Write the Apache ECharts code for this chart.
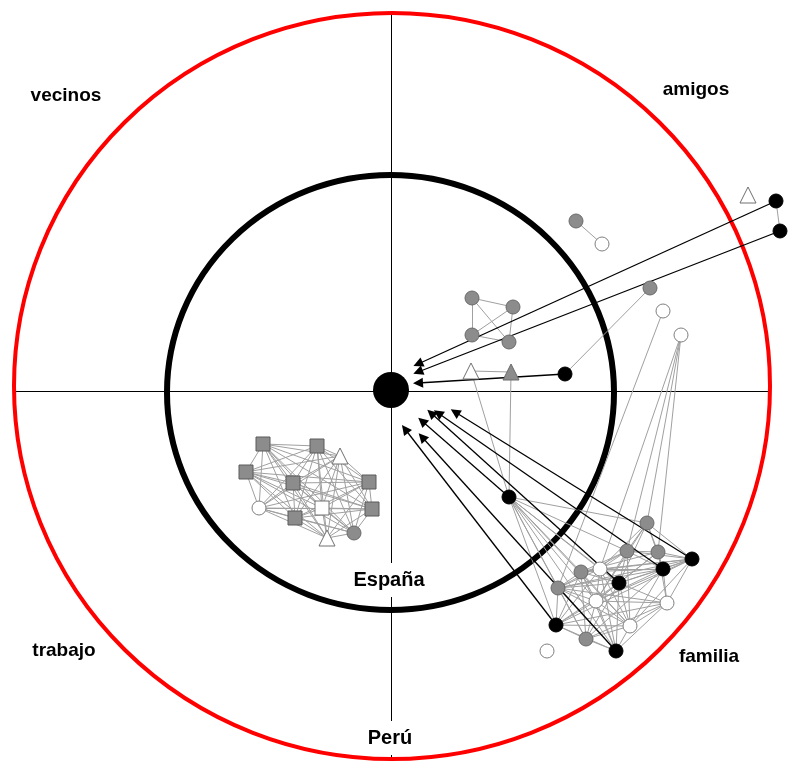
<!DOCTYPE html>
<html><head><meta charset="utf-8">
<script src="https://cdn.jsdelivr.net/npm/echarts@6/dist/echarts.min.js"></script>
<style>html,body{margin:0;padding:0;background:#fff}#c{width:795px;height:761px}</style>
</head><body><div id="c"></div>
<script>
// ---- data (pixel-space coordinates, y downwards) ----
// rings: [cx, cy, rx, ry]
const rings = [[392, 386, 378, 373], [390.5, 392.5, 223.5, 217.5]];
// axis cross lines
const crossLines = [[[391, 13], [391, 761]], [[14, 391], [769, 391]]];
const centerNode = [391, 390];

// nodes: [x, y, kind]  kind: b=black, g=gray, w=white circle; gs/ws squares; wt/gt triangles
const nodes = [
  [748,195,'wt'],[776,201,'b'],[780,231,'b'],[797,256,'g'],          // 0-3
  [576,221,'g'],[602,244,'w'],                                          // 4-5
  [472,298,'g'],[513,307,'g'],[472,335,'g'],[509,342,'g'],              // 6-9
  [650,288,'g'],[663,311,'w'],[681,335,'w'],                            // 10-12
  [471,371,'wt'],[511,372,'gt'],[565,374,'b'],[509,497,'b'],            // 13-16
  [647,523,'g'],[627,551,'g'],[658,552,'g'],[692,559,'b'],[663,569,'b'],// 17-21
  [581,572,'g'],[600,569,'w'],[619,583,'b'],[558,588,'g'],[596,601,'w'],// 22-26
  [667,603,'w'],[630,626,'w'],[556,625,'b'],[586,639,'g'],[616,651,'b'],// 27-31
  [547,651,'w'],                                                        // 32
  [263,444,'gs'],[317,446,'gs'],[340,456,'wt'],[246,472,'gs'],          // 33-36
  [293,483,'gs'],[369,482,'gs'],[259,508,'w'],[322,508,'ws'],           // 37-40
  [372,509,'gs'],[295,518,'gs'],[327,538,'wt'],[354,533,'g']            // 41-44
];

// undirected ties between nodes
const amigosLinks = [[1,2],[4,5],[6,7],[6,8],[6,9],[7,8],[7,9],[8,9],[10,15],[13,14],[13,16],[14,16],
  [11,25],[12,23],[12,18],[12,17],[12,19]];
const familiaLinks = [
  [16,17],[16,18],[16,22],[16,23],[16,24],[16,25],[16,26],[16,28],[16,29],[16,30],[16,31],
  [17,18],[17,19],[17,20],[17,21],[17,23],[17,24],[17,26],
  [18,19],[18,20],[18,21],[18,22],[18,23],[18,24],[18,25],[18,26],[18,28],
  [19,20],[19,21],[19,22],[19,24],[19,26],[19,27],
  [20,21],[20,22],[20,23],[20,24],[20,25],[20,26],[20,27],[20,28],[20,29],
  [21,22],[21,23],[21,24],[21,25],[21,26],[21,27],[21,28],[21,30],
  [22,23],[22,24],[22,25],[22,26],[22,28],[22,29],[22,30],[22,31],
  [23,24],[23,25],[23,26],[23,28],[23,29],[23,31],
  [24,25],[24,26],[24,27],[24,28],[24,29],[24,30],[24,31],
  [25,26],[25,27],[25,28],[25,29],[25,30],[25,31],
  [26,27],[26,28],[26,29],[26,30],[26,31],
  [27,28],[27,29],[27,30],[27,31],
  [28,29],[28,30],[28,31],
  [29,30],[29,31],[30,31]
];
const trabajoLinks = [
  [33,34],[33,35],[33,36],[33,37],[33,38],[33,39],[33,40],[33,41],[33,42],[33,43],[33,44],
  [34,35],[34,36],[34,37],[34,38],[34,39],[34,40],[34,41],[34,42],[34,43],[34,44],
  [35,36],[35,37],[35,38],[35,39],[35,40],[35,41],[35,42],[35,43],[35,44],
  [36,37],[36,38],[36,39],[36,40],[36,41],[36,42],[36,43],[36,44],
  [37,38],[37,39],[37,40],[37,41],[37,42],[37,43],[37,44],
  [38,39],[38,40],[38,41],[38,42],[38,43],[38,44],
  [39,40],[39,41],[39,42],[39,43],[39,44],
  [40,41],[40,42],[40,43],[40,44],
  [41,42],[41,43],[41,44],
  [42,43],[42,44],[43,44]
];
// arrows to ego: [source node, tipX, tipY]
const arrows = [[1,418,364],[2,418,372],[15,418,383],[20,455,412],[21,438,413],[24,431,413],[16,422,421],[29,405,429],[31,422,437]];

// text labels
const labelNames = ['vecinos','amigos','trabajo','familia','España','Perú'];
const labelPos = [[66,96],[696,90],[64,651],[709,657],[389,580],[390,738]];

// ---- styles ----
const kindStyle = {
  b:  {symbol:'circle',   size:14, fill:'#000000', stroke:'#000000'},
  g:  {symbol:'circle',   size:14, fill:'#8c8c8c', stroke:'#6a6a6a'},
  w:  {symbol:'circle',   size:14, fill:'#ffffff', stroke:'#808080'},
  gs: {symbol:'rect',     size:14, fill:'#8c8c8c', stroke:'#5a5a5a'},
  ws: {symbol:'rect',     size:14, fill:'#ffffff', stroke:'#707070'},
  wt: {symbol:'triangle', size:16, fill:'#ffffff', stroke:'#707070'},
  gt: {symbol:'triangle', size:16, fill:'#8c8c8c', stroke:'#6a6a6a'}
};
const ringColors = ['#ff0000', '#000000'];
const ringWidths = [4, 6];

const pt = i => [nodes[i][0], nodes[i][1]];
const linkData = amigosLinks.concat(familiaLinks, trabajoLinks).map(l => ({coords: [pt(l[0]), pt(l[1])]}));
const arrowData = arrows.map(a => ({coords: [pt(a[0]), [a[1], a[2]]]}));
const nodeData = nodes.map(n => {
  const s = kindStyle[n[2]];
  return {value: [n[0], n[1]], symbol: s.symbol, symbolSize: s.size,
    itemStyle: {color: s.fill, borderColor: s.stroke, borderWidth: 1, opacity: 1}};
});
const labelData = labelNames.map((name, i) => {
  const big = i >= 4;
  return {name, value: labelPos[i], label: {
    show: true, position: 'inside', formatter: '{b}', color: '#000000', opacity: 1,
    fontFamily: 'Liberation Sans, Arial, sans-serif', fontWeight: 'bold',
    fontSize: big ? 20 : 19, textBorderWidth: 0,
    backgroundColor: big ? '#ffffff' : 'transparent', padding: big ? [8, 4, 6, 4] : 0
  }};
});

const chart = echarts.init(document.getElementById('c'), null, {renderer: 'canvas'});
chart.setOption({
  animation: false,
  backgroundColor: '#ffffff',
  grid: {left: 0, right: 0, top: 0, bottom: 0},
  xAxis: {type: 'value', min: 0, max: 795, show: false},
  yAxis: {type: 'value', min: 0, max: 761, inverse: true, show: false},
  series: [
    {type: 'lines', coordinateSystem: 'cartesian2d', z: 1, silent: true,
     data: crossLines.map(c => ({coords: c})),
     lineStyle: {color: '#000', width: 1, opacity: 1}},
    {type: 'custom', coordinateSystem: 'cartesian2d', z: 2, silent: true,
     data: rings,
     renderItem: (params, api) => {
       const c = api.coord([api.value(0), api.value(1)]);
       const s = api.size([api.value(2), api.value(3)]);
       const rx = Math.abs(s[0]), ry = Math.abs(s[1]);
       return {type: 'circle', x: c[0], y: c[1], scaleX: 1, scaleY: ry / rx,
         shape: {cx: 0, cy: 0, r: rx},
         style: {fill: 'none', stroke: ringColors[params.dataIndex], lineWidth: ringWidths[params.dataIndex], strokeNoScale: true}};
     }},
    {type: 'lines', coordinateSystem: 'cartesian2d', z: 3, silent: true,
     data: linkData, lineStyle: {color: '#a0a0a0', width: 1, opacity: 1}},
    {type: 'lines', coordinateSystem: 'cartesian2d', z: 4, silent: true,
     data: arrowData, symbol: ['none', 'triangle'], symbolSize: 10,
     lineStyle: {color: '#000', width: 1.3, opacity: 1}},
    {type: 'scatter', z: 5, silent: true, data: nodeData, itemStyle: {opacity: 1}},
    {type: 'scatter', z: 6, silent: true, data: [centerNode], symbol: 'circle', symbolSize: 36,
     itemStyle: {color: '#000', opacity: 1}},
    {type: 'scatter', z: 7, silent: true, data: labelData, symbolSize: 1,
     itemStyle: {color: 'transparent', opacity: 1}}
  ]
});
</script>
</body></html>
